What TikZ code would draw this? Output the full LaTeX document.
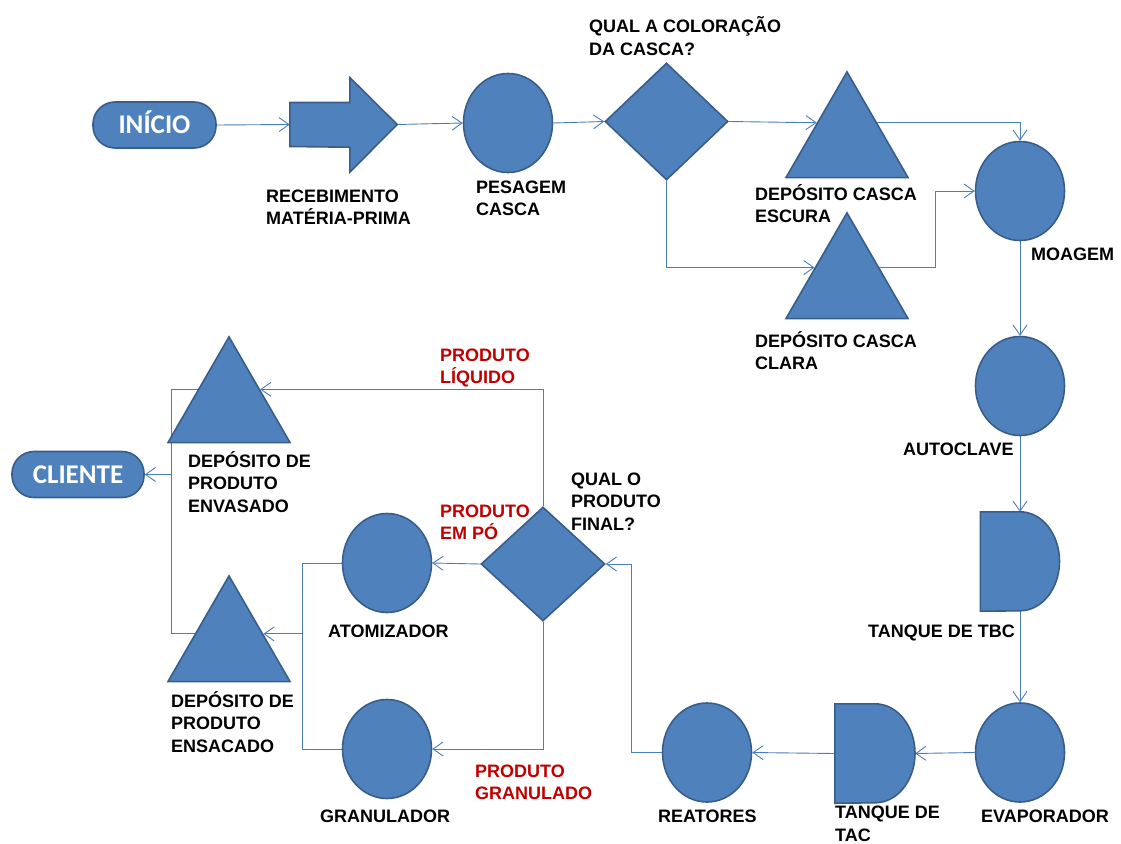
\documentclass[tikz,border=0pt]{standalone}
\usepackage{fontspec}
\setmainfont{Liberation Sans}
\newfontfamily\calib{Carlito}
\usetikzlibrary{shapes.geometric,arrows.meta,backgrounds,calc}
\definecolor{fillblue}{HTML}{4F81BD}
\definecolor{edgeblue}{HTML}{385D8A}
\definecolor{lineblue}{HTML}{4A7EBB}
\definecolor{darkred}{HTML}{C00000}
\begin{document}
\begin{tikzpicture}[x=1pt,y=1pt,
 blk/.style={fill=fillblue,draw=edgeblue,line width=1.6pt,inner sep=0pt},
 circ/.style={blk,ellipse,minimum width=89pt,minimum height=99pt},
 tri/.style={blk,regular polygon,regular polygon sides=3,minimum size=141pt},
 dia/.style={blk,diamond,minimum width=123pt,minimum height=116pt},
 term/.style={blk,rectangle,rounded corners=22pt,minimum height=46pt,text=white,text height=17.4pt,text depth=0pt,font=\calib\fontsize{27}{30}\selectfont\bfseries},
 box/.style={rectangle,draw=none,inner sep=0pt},
 lbl/.style={anchor=base west,inner sep=0pt,align=left,font=\fontsize{18}{22.5}\selectfont\bfseries},
 redlbl/.style={lbl,text=darkred},
 ln/.style={draw=lineblue,line width=0.9pt},
 arr/.style={ln,-{Straight Barb[length=10pt,width=14pt]}}
]
\useasboundingbox (0,0) rectangle (1121,-843);

% terminals
\node[term,minimum width=123pt] (ini) at (154.5,-125) {INÍCIO};
\node[term,minimum width=132pt] (cli) at (78,-474.5) {CLIENTE};

% receiving arrow
\node[box,minimum width=107pt,minimum height=95pt] (rec) at (343.5,-124.5) {};
\draw[blk] ($(rec.west)+(0,22)$) -- ++(60,0) -- ++(0,25) -- (rec.east)
  -- ($(rec.south west)+(60,0)$) -- ++(0,25) -- ($(rec.west)+(0,-22)$) -- cycle;

% circles
\node[circ] (pes) at (508,-123) {};
\node[circ] (moa) at (1020,-191) {};
\node[circ] (aut) at (1020,-386) {};
\node[circ] (eva) at (1020,-752.5) {};
\node[circ] (rea) at (707,-752.5) {};
\node[circ] (atm) at (387,-563) {};
\node[circ] (gra) at (387,-749) {};

% diamonds
\node[dia,minimum height=117pt] (q1) at (666.5,-121.5) {};
\node[dia,minimum width=124pt,minimum height=114pt] (q2) at (543,-564) {};

% triangles
\node[tri] (esc) at (847,-142.4) {};
\node[tri] (cla) at (847,-283.4) {};
\node[tri] (env) at (229,-407.4) {};
\node[tri] (ens) at (229,-646.4) {};

% delay tanks
\node[box,minimum width=79pt,minimum height=99pt] (tbc) at (1020,-561.5) {};
\draw[blk] (tbc.north west) -- (tbc.north) arc[start angle=90,end angle=-90,x radius=39.5,y radius=49.5] -- (tbc.south west) -- cycle;
\node[box,minimum width=80pt,minimum height=99pt] (tac) at (875,-753.5) {};
\draw[blk] (tac.north west) -- (tac.north) arc[start angle=90,end angle=-90,x radius=40,y radius=49.5] -- (tac.south west) -- cycle;

% labels (anchor = baseline of last line)
\node[lbl] (lrec) at (266,-224.5) {RECEBIMENTO\\MATÉRIA-PRIMA};
\node[lbl] (lpes) at (476,-215.5) {PESAGEM\\CASCA};
\node[lbl] (lq1) at (589,-55.5) {QUAL A COLORAÇÃO\\DA CASCA?};
\node[lbl] (lesc) at (755,-222.5) {DEPÓSITO CASCA\\ESCURA};
\node[lbl] (lcla) at (755,-369.5) {DEPÓSITO CASCA\\CLARA};
\node[lbl] (lmoa) at (1031,-260) {MOAGEM};
\node[lbl] (laut) at (903,-455) {AUTOCLAVE};
\node[lbl] (ltbc) at (868,-637) {TANQUE DE TBC};
\node[lbl] (leva) at (981,-822) {EVAPORADOR};
\node[lbl] (ltac) at (835,-841) {TANQUE DE\\TAC};
\node[lbl] (lrea) at (658,-822) {REATORES};
\node[lbl] (lgra) at (320,-822) {GRANULADOR};
\node[lbl] (latm) at (328,-637) {ATOMIZADOR};
\node[lbl] (lens) at (171,-752) {DEPÓSITO DE\\PRODUTO\\ENSACADO};
\node[lbl] (lenv) at (188,-512) {DEPÓSITO DE\\PRODUTO\\ENVASADO};
\node[lbl] (lq2) at (571,-530) {QUAL O\\PRODUTO\\FINAL?};
\node[redlbl] (lliq) at (440,-383.5) {PRODUTO\\LÍQUIDO};
\node[redlbl] (lpo) at (440,-539.5) {PRODUTO\\EM PÓ};
\node[redlbl] (lgrn) at (475,-799.5) {PRODUTO\\GRANULADO};

% connectors
\begin{scope}[on background layer]
\coordinate (jA) at ([xshift=56]cla.26);
\coordinate (jB) at ([xshift=-30]rea.west);
\coordinate (jC) at ([xshift=-39]atm.west);
\coordinate (jD) at ([xshift=27]cli.east);
\draw[arr] (ini.east) -- (rec.west);
\draw[arr] (rec.east) -- (pes.west);
\draw[arr] (pes.east) -- (q1.west);
\draw[arr] (q1.east) -- (esc.147);
\draw[arr] (q1.south) |- (cla.154);
\draw[arr] (esc.33) -| (moa.north);
\draw[arr] (cla.26) -- (jA) |- (moa.west);
\draw[arr] (moa.south) -- (aut.north);
\draw[arr] (aut.south) -- (tbc.north);
\draw[arr] (tbc.south) -- (eva.north);
\draw[arr] (eva.west) -- (tac.east);
\draw[arr] (tac.west) -- (rea.east);
\draw[arr] (rea.west) -- (jB) |- (q2.east);
\draw[arr] (q2.west) -- (atm.east);
\draw[arr] (q2.south) |- (gra.east);
\draw[arr] (q2.north) |- (env.30);
\draw[ln] (atm.west) -- (jC) |- (gra.west);
\draw[arr] (jC |- ens.20) -- (ens.20);
\draw[ln] (env.30) -- (jD |- env.30) -- (jD |- ens.20) -- (ens.20);
\draw[arr] (jD |- cli.east) -- (cli.east);
\end{scope}
\end{tikzpicture}
\end{document}
